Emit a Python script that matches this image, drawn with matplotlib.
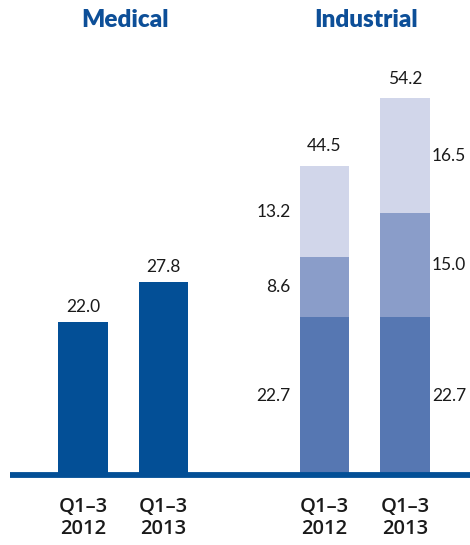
import matplotlib
matplotlib.use("Agg")
import matplotlib.pyplot as plt

groups = ["Medical", "Industrial"]
periods = ["Q1–3\n2012", "Q1–3\n2013"]
medical = [22.0, 27.8]
ind_bottom = [22.7, 22.7]
ind_mid = [8.6, 15.0]
ind_top = [13.2, 16.5]
ind_total = [44.5, 54.2]

c_med = "#034f96"
c_b = "#5677b2"
c_m = "#8a9dc9"
c_t = "#d1d6ea"
title_c = "#0d4f98"

fig = plt.figure(figsize=(4.70, 5.45), dpi=100)
W, H = 470, 545
base_px = 475
ax = fig.add_axes([0, (H - base_px) / H, 1, base_px / H])
unit = 80.5
x0 = -83 / unit
x1 = (W - 83) / unit
ax.set_xlim(x0, x1)
ax.set_ylim(0, base_px / 6.95)
ax.axis("off")

font = "Lato"
bw = 0.62
mpos = [0, 1]
ipos = [3, 4]

ax.bar(mpos, medical, width=bw, color=c_med, zorder=2)
ax.bar(ipos, ind_bottom, width=bw, color=c_b, zorder=2)
ax.bar(ipos, ind_mid, width=bw, bottom=ind_bottom, color=c_m, zorder=2)
bot2 = [a + b for a, b in zip(ind_bottom, ind_mid)]
ax.bar(ipos, ind_top, width=bw, bottom=bot2, color=c_t, zorder=2)

ax.plot([(10 - 83) / unit, x1], [0, 0], color=c_med, lw=4.2,
        solid_capstyle="butt", clip_on=False, zorder=3)

fs = 12.5
for p, v in zip(mpos, medical):
    ax.text(p, v + 2.2, f"{v:.1f}", ha="center", va="center", fontsize=fs,
            family=font, color="#1a1a1a")
for p, v in zip(ipos, ind_total):
    ax.text(p, v + 2.8, f"{v:.1f}", ha="center", va="center", fontsize=fs,
            family=font, color="#1a1a1a")

# segment labels: left for first, right for second
for i, p in enumerate(ipos):
    segs = [(0, ind_bottom[i]), (ind_bottom[i], ind_mid[i]),
            (bot2[i], ind_top[i])]
    for b, h in segs:
        if i == 0:
            xt, ha = p - 0.42, "right"
        else:
            xt, ha = (466 - 83) / unit, "right"
        yc = b + h / 2
        ax.text(xt, yc, f"{h:.1f}", ha=ha, va="center", fontsize=fs,
                family=font, color="#1a1a1a")

# group titles
fig.text(125 / W, 1 - 20 / H, groups[0], ha="center", va="center",
         fontsize=17.5, fontweight="heavy", family=font, color=title_c)
fig.text(366 / W, 1 - 20 / H, groups[1], ha="center", va="center",
         fontsize=17.5, fontweight="heavy", family=font, color=title_c)

# tick labels
for p in mpos + ipos:
    lab = periods[p % 3 if p < 3 else p - 3]
    xf = (83 + p * unit) / W
    fig.text(xf, 1 - 518 / H, lab, ha="center", va="center", fontsize=14.5,
             fontweight="semibold", family="Open Sans", color="#1a1a1a",
             linespacing=1.1)

fig.savefig("out.png", dpi=100)
